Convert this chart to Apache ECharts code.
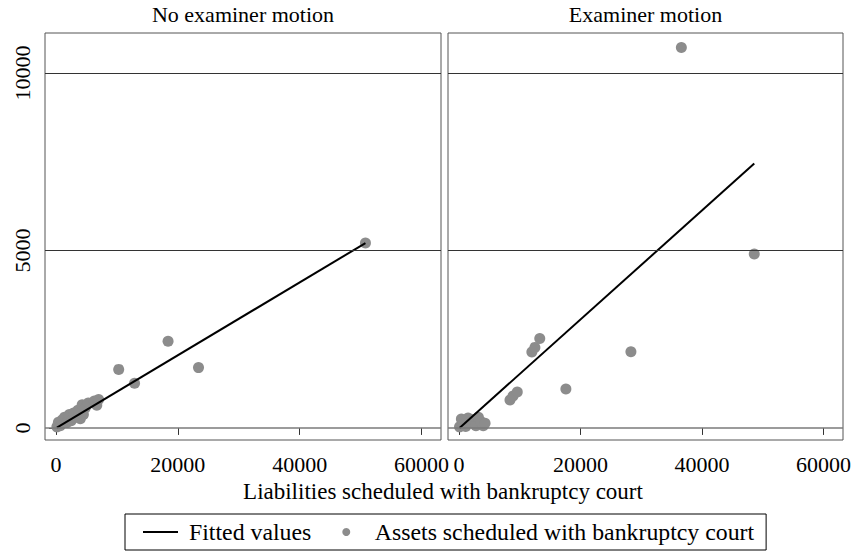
<!DOCTYPE html>
<html>
<head>
<meta charset="utf-8">
<script src="https://cdn.jsdelivr.net/npm/echarts@6/dist/echarts.min.js"></script>
<style>
html,body{margin:0;padding:0;background:#fff;}
#chart{width:856px;height:555px;}
</style>
</head>
<body>
<div id="chart"></div>
<script>
// ---- data ----
const panelTitles = ['No examiner motion', 'Examiner motion'];
const xTicks = [0, 20000, 40000, 60000];
const yTicks = [0, 5000, 10000];
const xAxisTitle = 'Liabilities scheduled with bankruptcy court';
const seriesNames = ['Fitted values', 'Assets scheduled with bankruptcy court'];

// panel 1: no examiner motion  [liabilities, assets]
const assetsNoMotion = [
  [150, 30], [400, 160], [700, 60], [1000, 220], [1400, 300], [1800, 150],
  [2200, 380], [2500, 200], [2900, 420], [3200, 300], [3600, 500], [4000, 260],
  [4300, 650], [4500, 380], [4800, 560], [5300, 700], [6300, 760], [6700, 640],
  [7000, 800], [10300, 1650], [12900, 1260], [18400, 2440], [23400, 1700], [50800, 5210]
];
const fitNoMotion = [[150, 10], [50800, 5210]];

// panel 2: examiner motion
const assetsMotion = [
  [100, 30], [400, 250], [700, 100], [1100, 40], [1500, 280], [1900, 150],
  [2400, 240], [2800, 60], [3200, 300], [3600, 180], [4000, 60], [4300, 130],
  [8400, 790], [8900, 900], [9600, 1010], [12000, 2140], [12500, 2270], [13300, 2520],
  [17600, 1100], [28300, 2150], [36600, 10720], [48600, 4900]
];
const fitMotion = [[100, 0], [48600, 7450]];

// ---- chart ----
const FONT = '"Liberation Serif", "Times New Roman", serif';
const xMin = -1800, xMax = 63200, yMin = -340, yMax = 11130;
const grids = [
  {left: 45, top: 33, width: 396, height: 407},
  {left: 448, top: 33, width: 395, height: 407}
];
const markerColor = '#8c8c8c';

function gridLines() {
  return {
    silent: true, symbol: ['none', 'none'],
    label: {show: false},
    lineStyle: {color: '#333', width: 1, type: 'solid'},
    emphasis: {disabled: true},
    data: yTicks.map(v => (v === 0
      ? {yAxis: v, lineStyle: {color: '#7a7a7a', width: 1.6}}
      : {yAxis: v}))
  };
}
const plain = v => String(v);

const option = {
  animation: false,
  backgroundColor: '#fff',
  textStyle: {fontFamily: FONT},
  grid: grids.map(g => Object.assign({show: true, borderColor: '#555', borderWidth: 1, backgroundColor: 'transparent'}, g)),
  xAxis: grids.map((g, i) => ({
    type: 'value', gridIndex: i, min: xMin, max: xMax,
    axisLine: {show: false},
    splitLine: {show: false},
    axisTick: {show: true, customValues: xTicks, length: 7, lineStyle: {color: '#333'}},
    axisLabel: {customValues: xTicks, formatter: plain, fontFamily: FONT, fontSize: 22, color: '#000', margin: 13}
  })),
  yAxis: grids.map((g, i) => ({
    type: 'value', gridIndex: i, min: yMin, max: yMax,
    axisLine: {show: false},
    splitLine: {show: false},
    axisTick: {show: i === 0, customValues: yTicks, length: 7, lineStyle: {color: '#333'}},
    axisLabel: {show: i === 0, customValues: yTicks, formatter: plain, rotate: 90, fontFamily: FONT, fontSize: 22, color: '#000', margin: 12}
  })),
  legend: {
    left: 125, top: 514,
    padding: [6, 12, 6, 18],
    borderColor: '#000', borderWidth: 1,
    itemWidth: 35, itemHeight: 8, itemGap: 31,
    textStyle: {fontFamily: FONT, fontSize: 23.8, color: '#000', padding: [0, 0, 0, 6]},
    data: [
      {name: seriesNames[0], icon: 'path://M0,0h35v2h-35z', itemStyle: {color: '#000'}},
      {name: seriesNames[1], icon: 'circle'}
    ]
  },
  graphic: [
    {type: 'text', x: 45 + 396 / 2, y: 3, style: {text: panelTitles[0], fontFamily: FONT, fontSize: 22, fill: '#000', textAlign: 'center'}},
    {type: 'text', x: 448 + 395 / 2, y: 3, style: {text: panelTitles[1], fontFamily: FONT, fontSize: 22, fill: '#000', textAlign: 'center'}},
    {type: 'text', x: 443, y: 480, style: {text: xAxisTitle, fontFamily: FONT, fontSize: 23, fill: '#000', textAlign: 'center'}}
  ],
  series: [
    {name: seriesNames[1], type: 'scatter', xAxisIndex: 0, yAxisIndex: 0, data: assetsNoMotion,
     symbolSize: 11, itemStyle: {color: markerColor, opacity: 1}, markLine: gridLines(), z: 3},
    {name: seriesNames[1], type: 'scatter', xAxisIndex: 1, yAxisIndex: 1, data: assetsMotion,
     symbolSize: 11, itemStyle: {color: markerColor, opacity: 1}, markLine: gridLines(), z: 3},
    {name: seriesNames[0], type: 'line', xAxisIndex: 0, yAxisIndex: 0, data: fitNoMotion,
     showSymbol: false, symbol: 'none', lineStyle: {color: '#000', width: 2}, itemStyle: {color: '#000'}, z: 4},
    {name: seriesNames[0], type: 'line', xAxisIndex: 1, yAxisIndex: 1, data: fitMotion,
     showSymbol: false, symbol: 'none', lineStyle: {color: '#000', width: 2}, itemStyle: {color: '#000'}, z: 4}
  ]
};

const chart = echarts.init(document.getElementById('chart'), null, {renderer: 'svg'});
chart.setOption(option);
</script>
</body>
</html>
